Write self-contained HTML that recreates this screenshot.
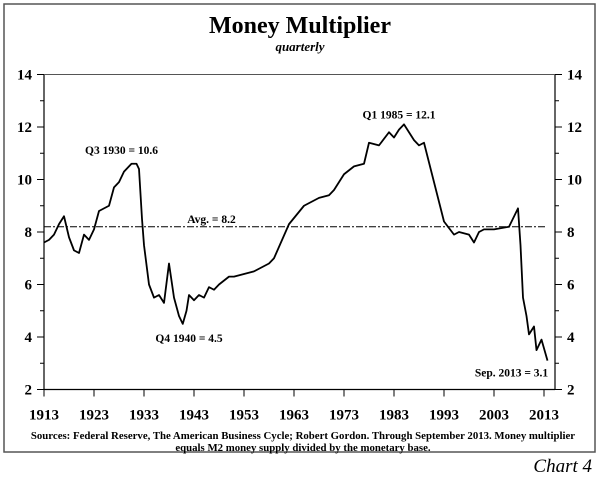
<!DOCTYPE html>
<html><head><meta charset="utf-8"><style>
body{margin:0;background:#fff;}
svg text{font-family:"Liberation Serif",serif;font-weight:bold;fill:#000;}
</style></head><body>
<svg width="600" height="477" viewBox="0 0 600 477">
<rect x="4" y="4" width="591" height="448" fill="none" stroke="#555" stroke-width="1.5"/>
<text x="300" y="33" font-size="24" text-anchor="middle">Money Multiplier</text>
<text x="300" y="51" font-size="13" font-style="italic" text-anchor="middle">quarterly</text>
<g id="axes"></g>
<g id="plot"></g>
<text x="303" y="439" font-size="10.8" text-anchor="middle">Sources: Federal Reserve, The American Business Cycle; Robert Gordon. Through September 2013. Money multiplier</text>
<text x="303" y="451" font-size="10.8" text-anchor="middle">equals M2 money supply divided by the monetary base.</text>
<text x="592" y="472" font-size="19" font-style="italic" text-anchor="end" style="font-weight:normal">Chart 4</text>
</svg>
<script>
const years=[1913,1914,1915,1916,1917,1918,1919,1920,1921,1922,1923,1924,1925,1926,1927,1928,1929,1930.5,1931.5,1932,1932.6,1933,1934,1935,1936,1937,1938,1939,1940,1940.75,1941.5,1942,1943,1944,1945,1946,1947,1948,1950,1951,1953,1955,1956,1958,1959,1962,1965,1968,1970,1971,1973,1975,1977,1978,1980,1982,1983,1984,1985,1986,1987,1988,1989,1991,1993,1995,1996,1998,1999,2000,2001,2003,2006,2007.8,2008.3,2008.8,2009.5,2010,2011,2011.5,2012.5,2013.7];
const values=[7.6,7.7,7.9,8.3,8.6,7.8,7.3,7.2,7.9,7.7,8.1,8.8,8.9,9.0,9.7,9.9,10.3,10.6,10.6,10.4,8.5,7.5,6.0,5.5,5.6,5.3,6.8,5.5,4.8,4.5,5.0,5.6,5.4,5.6,5.5,5.9,5.8,6.0,6.3,6.3,6.4,6.5,6.6,6.8,7.0,8.3,9.0,9.3,9.4,9.6,10.2,10.5,10.6,11.4,11.3,11.8,11.6,11.9,12.1,11.8,11.5,11.3,11.4,9.9,8.4,7.9,8.0,7.9,7.6,8.0,8.1,8.1,8.2,8.9,7.5,5.5,4.8,4.1,4.4,3.5,3.9,3.1];
const yTicks=[2,4,6,8,10,12,14];
const xTicks=[1913,1923,1933,1943,1953,1963,1973,1983,1993,2003,2013];
const avg=[8.2];
const annotations=[{t:"Q3 1930 = 10.6",x:1928.5,y:10.6,dy:-10},{t:"Q1 1985 = 12.1",x:1984,y:12.1,dy:-6},{t:"Q4 1940 = 4.5",x:1942,y:4.5,dy:18},{t:"Sep. 2013 = 3.1",x:2006.5,y:3.1,dy:16}];
const L=44,R=555,T=74.5,B=389.5;
const X=y=>L+(y-1913)*5;
const Y=v=>B-(v-2)*(B-T)/12;
const ns="http://www.w3.org/2000/svg";
const ax=document.getElementById('axes'),pl=document.getElementById('plot');
function mk(tag,at,par){const e=document.createElementNS(ns,tag);for(const k in at)e.setAttribute(k,at[k]);par.appendChild(e);return e;}
let e=mk('line',{x1:L,y1:T,x2:L,y2:B,stroke:'#000','stroke-width':1.2},ax);


e=mk('line',{x1:R,y1:T,x2:R,y2:B,stroke:'#000','stroke-width':1.2},ax);


e=mk('line',{x1:L,y1:T,x2:R,y2:T,stroke:'#555','stroke-width':1},ax);


e=mk('line',{x1:L,y1:B,x2:R,y2:B,stroke:'#000','stroke-width':1.2},ax);


for(let v=2;v<=14;v++){
  const len=v%2===0?7:4;
  mk('line',{x1:L-len,y1:Y(v),x2:L,y2:Y(v),stroke:'#000'},ax);
  mk('line',{x1:R,y1:Y(v),x2:R+len,y2:Y(v),stroke:'#000'},ax);
}
yTicks.forEach(v=>{
  let t=mk('text',{x:L-12,y:Y(v)+5,'font-size':15,'text-anchor':'end'},ax);t.textContent=v;
  
  
  t=mk('text',{x:R+12,y:Y(v)+5,'font-size':15,'text-anchor':'start'},ax);t.textContent=v;
  
  
});
xTicks.forEach(y=>{
  mk('line',{x1:X(y),y1:B,x2:X(y),y2:B+7,stroke:'#000'},ax);
  const t=mk('text',{x:X(y),y:B+30,'font-size':15,'text-anchor':'middle'},ax);t.textContent=y;
  
  
});
e=mk('line',{x1:L,y1:Y(avg[0]),x2:R-10,y2:Y(avg[0]),stroke:'#000','stroke-width':0.9,'stroke-dasharray':'7,2,2,2'},pl);


e=mk('text',{x:X(1946.5),y:Y(avg[0])-4,'font-size':11.5,'text-anchor':'middle'},pl);e.textContent='Avg. = '+avg[0];


e=mk('polyline',{points:years.map((y,i)=>X(y)+','+Y(values[i])).join(' '),fill:'none',stroke:'#000','stroke-width':1.8,'stroke-linejoin':'round'},pl);


annotations.forEach(a=>{
  const t=mk('text',{x:X(a.x),y:Y(a.y)+a.dy,'font-size':11.5,'text-anchor':'middle'},pl);t.textContent=a.t;
  
  
});
</script>
</body></html>
